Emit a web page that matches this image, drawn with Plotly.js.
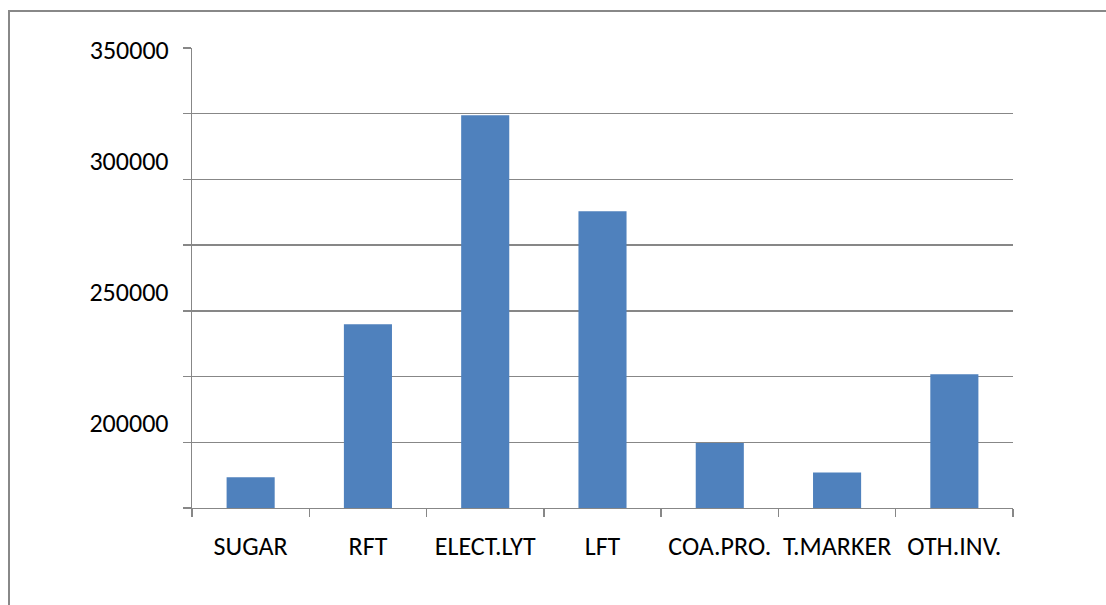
<!DOCTYPE html>
<html>
<head>
<meta charset="utf-8">
<script src="https://cdn.plot.ly/plotly-3.0.1.min.js"></script>
<style>
  html, body { margin: 0; padding: 0; background: #ffffff; overflow: hidden; }
  #chart { position: absolute; left: 0; top: 0; width: 1106px; height: 605px; }
  #frame { position: absolute; left: 8px; top: 10px; width: 1200px; height: 700px;
           border: 2px solid #888888; pointer-events: none; box-sizing: border-box; }
</style>
</head>
<body>
<div id="chart"></div>
<div id="frame"></div>
<script>
// ---- data ----
const categories = ["SUGAR", "RFT", "ELECT.LYT", "LFT", "COA.PRO.", "T.MARKER", "OTH.INV."];
const values = [186700, 244900, 324400, 287900, 199700, 188500, 225900];
const yLabelVals = [200000, 250000, 300000];
const yLabelText = ["200000", "250000", "300000"];
const yTopLabelVals = [350000];
const yTopLabelText = ["350000"];
const yRange = [175000, 350000];

const gridColor = "#878787";
const fontSpec = { family: "Carlito, Calibri, Lato, 'Open Sans', sans-serif", size: 26, color: "#000000" };

const bars = {
  type: "bar",
  x: categories,
  y: values,
  marker: { color: "#4f81bd", line: { width: 0 } },
  width: 0.41,
  hoverinfo: "x+y"
};

// invisible helper so the second (label-only) y axis is drawn
const helper = {
  type: "scatter",
  mode: "none",
  x: categories,
  y: values,
  yaxis: "y2",
  hoverinfo: "skip",
  showlegend: false
};

const layout = {
  width: 1106,
  height: 605,
  margin: { l: 192, r: 93, t: 48, b: 97, pad: 0 },
  paper_bgcolor: "#ffffff",
  plot_bgcolor: "#ffffff",
  showlegend: false,
  font: fontSpec,
  xaxis: {
    type: "category",
    showline: true,
    linecolor: gridColor,
    linewidth: 1.3,
    ticks: "outside",
    tickson: "boundaries",
    ticklen: 8,
    tickwidth: 1.3,
    tickcolor: gridColor,
    showgrid: false,
    tickangle: 0,
    tickfont: fontSpec,
    ticklabelstandoff: 14
  },
  yaxis: {
    range: yRange,
    showline: true,
    linecolor: gridColor,
    linewidth: 1.3,
    tickmode: "array",
    tickvals: yLabelVals,
    ticktext: yLabelText,
    ticks: "outside",
    ticklen: 8,
    tickwidth: 1.3,
    tickcolor: gridColor,
    showgrid: true,
    gridcolor: gridColor,
    gridwidth: 1.3,
    zeroline: false,
    tickfont: fontSpec,
    ticklabelshift: -19,
    ticklabelstandoff: 9,
    minor: {
      tick0: 175000,
      dtick: 25000,
      ticks: "outside",
      ticklen: 8,
      tickwidth: 1.3,
      tickcolor: gridColor,
      showgrid: true,
      gridcolor: gridColor,
      gridwidth: 1.3
    }
  },
  yaxis2: {
    overlaying: "y",
    anchor: "x",
    side: "left",
    range: yRange,
    tickmode: "array",
    tickvals: yTopLabelVals,
    ticktext: yTopLabelText,
    showgrid: false,
    showline: false,
    zeroline: false,
    ticks: "outside",
    ticklen: 8,
    tickwidth: 1.3,
    tickcolor: gridColor,
    tickfont: fontSpec,
    ticklabelshift: 2,
    ticklabelstandoff: 9
  }
};

Plotly.newPlot("chart", [bars, helper], layout, { displayModeBar: false, staticPlot: true });
</script>
</body>
</html>
